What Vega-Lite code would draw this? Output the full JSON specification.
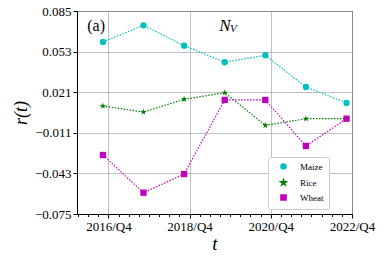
{
  "$schema": "https://vega.github.io/schema/vega-lite/v6.json",
  "width": 275,
  "height": 203,
  "autosize": "none",
  "padding": {"left": 77, "top": 11, "right": 32, "bottom": 45},
  "config": {
    "font": "Liberation Serif",
    "view": {"stroke": "black", "strokeWidth": 1},
    "axis": {"labelFont": "Liberation Serif", "titleFont": "Liberation Serif", "labelColor": "black", "titleColor": "black", "domainColor": "black", "tickColor": "black", "gridColor": "#b0b0b0", "gridWidth": 0.8}
  },
  "data": {"values": [
    {"t": 2015.865, "crop": "Maize", "r": 0.0606},
    {"t": 2016.865, "crop": "Maize", "r": 0.0737},
    {"t": 2017.865, "crop": "Maize", "r": 0.0577},
    {"t": 2018.865, "crop": "Maize", "r": 0.0446},
    {"t": 2019.865, "crop": "Maize", "r": 0.0501},
    {"t": 2020.865, "crop": "Maize", "r": 0.0251},
    {"t": 2021.865, "crop": "Maize", "r": 0.0125},
    {"t": 2015.865, "crop": "Rice", "r": 0.0101},
    {"t": 2016.865, "crop": "Rice", "r": 0.0054},
    {"t": 2017.865, "crop": "Rice", "r": 0.0154},
    {"t": 2018.865, "crop": "Rice", "r": 0.0206},
    {"t": 2019.865, "crop": "Rice", "r": -0.0051},
    {"t": 2020.865, "crop": "Rice", "r": 0.0001},
    {"t": 2021.865, "crop": "Rice", "r": 0.0001},
    {"t": 2015.865, "crop": "Wheat", "r": -0.0285},
    {"t": 2016.865, "crop": "Wheat", "r": -0.0582},
    {"t": 2017.865, "crop": "Wheat", "r": -0.0435},
    {"t": 2018.865, "crop": "Wheat", "r": 0.0149},
    {"t": 2019.865, "crop": "Wheat", "r": 0.0149},
    {"t": 2020.865, "crop": "Wheat", "r": -0.0214},
    {"t": 2021.865, "crop": "Wheat", "r": 0.0001}
  ]},
  "layer": [
    {
      "mark": {"type": "line", "strokeDash": [1.5, 1.5], "strokeWidth": 1.2},
      "encoding": {
        "x": {"field": "t", "type": "quantitative", "scale": {"domain": [2015.227, 2022], "nice": false, "zero": false},
          "axis": {"values": [2016, 2018, 2020, 2022], "labelExpr": "datum.value + '/Q4'", "title": "t", "titleFontStyle": "italic", "titleFontSize": 19, "titleFontWeight": "normal", "titlePadding": 1, "labelFontSize": 13, "tickSize": 4, "labelPadding": 2, "grid": true, "labelFlush": false}},
        "y": {"field": "r", "type": "quantitative", "scale": {"domain": [-0.075, 0.085], "nice": false, "zero": false},
          "axis": {"values": [-0.075, -0.043, -0.011, 0.021, 0.053, 0.085], "format": ".3f", "labelExpr": "replace(datum.label, '-', '−')", "title": "r(t)", "titleFontStyle": "italic", "titleFontSize": 18, "titleFontWeight": "normal", "titlePadding": 4, "labelFontSize": 13, "tickSize": 4, "labelPadding": 2, "grid": true}},
        "color": {"field": "crop", "type": "nominal", "scale": {"domain": ["Maize", "Rice", "Wheat"], "range": ["#00bfbf", "#008000", "#bf00bf"]},
          "legend": {"title": null, "orient": "none", "legendX": 191, "legendY": 146, "labelFont": "Liberation Serif", "labelFontSize": 9, "labelColor": "black", "strokeColor": "#cccccc", "fillColor": "white", "padding": 5, "cornerRadius": 2, "rowPadding": 3, "labelOffset": 12, "symbolSize": 26, "symbolOffset": 6}}
      }
    },
    {
      "mark": {"type": "point", "filled": true, "opacity": 1, "size": 40},
      "encoding": {
        "x": {"field": "t", "type": "quantitative", "axis": {"values": [2015.25, 2015.5, 2015.75, 2016.25, 2016.5, 2016.75, 2017, 2017.25, 2017.5, 2017.75, 2018.25, 2018.5, 2018.75, 2019, 2019.25, 2019.5, 2019.75, 2020.25, 2020.5, 2020.75, 2021, 2021.25, 2021.5, 2021.75], "labels": false, "title": null, "grid": false, "domain": false, "tickSize": 2.5, "orient": "bottom"}},
        "y": {"field": "r", "type": "quantitative"},
        "color": {"field": "crop", "type": "nominal", "scale": {"domain": ["Maize", "Rice", "Wheat"], "range": ["#00bfbf", "#008000", "#bf00bf"]}},
        "shape": {"field": "crop", "type": "nominal", "scale": {"domain": ["Maize", "Rice", "Wheat"], "range": ["circle", "M0,-1.1L0.247,-0.34L1.046,-0.34L0.4,0.13L0.647,0.89L0,0.42L-0.647,0.89L-0.4,0.13L-1.046,-0.34L-0.247,-0.34Z", "square"]}}
      }
    },
    {
      "data": {"values": [{"label": "(a)"}]},
      "mark": {"type": "text", "font": "Liberation Serif", "fontSize": 16, "fontWeight": "normal", "color": "black"},
      "encoding": {"x": {"datum": 2015.697, "axis": null}, "y": {"datum": 0.0735}, "text": {"field": "label"}}
    },
    {
      "data": {"values": [{"label": "N"}]},
      "mark": {"type": "text", "font": "Liberation Serif", "fontSize": 17, "fontWeight": "normal", "fontStyle": "italic", "color": "black"},
      "encoding": {"x": {"datum": 2018.87, "axis": null}, "y": {"datum": 0.0735}, "text": {"field": "label"}}
    },
    {
      "data": {"values": [{"label": "V"}]},
      "mark": {"type": "text", "font": "Liberation Serif", "fontSize": 11, "fontWeight": "normal", "fontStyle": "italic", "color": "black"},
      "encoding": {"x": {"datum": 2019.08, "axis": null}, "y": {"datum": 0.0705}, "text": {"field": "label"}}
    }
  ],
  "resolve": {"axis": {"x": "independent"}}
}
